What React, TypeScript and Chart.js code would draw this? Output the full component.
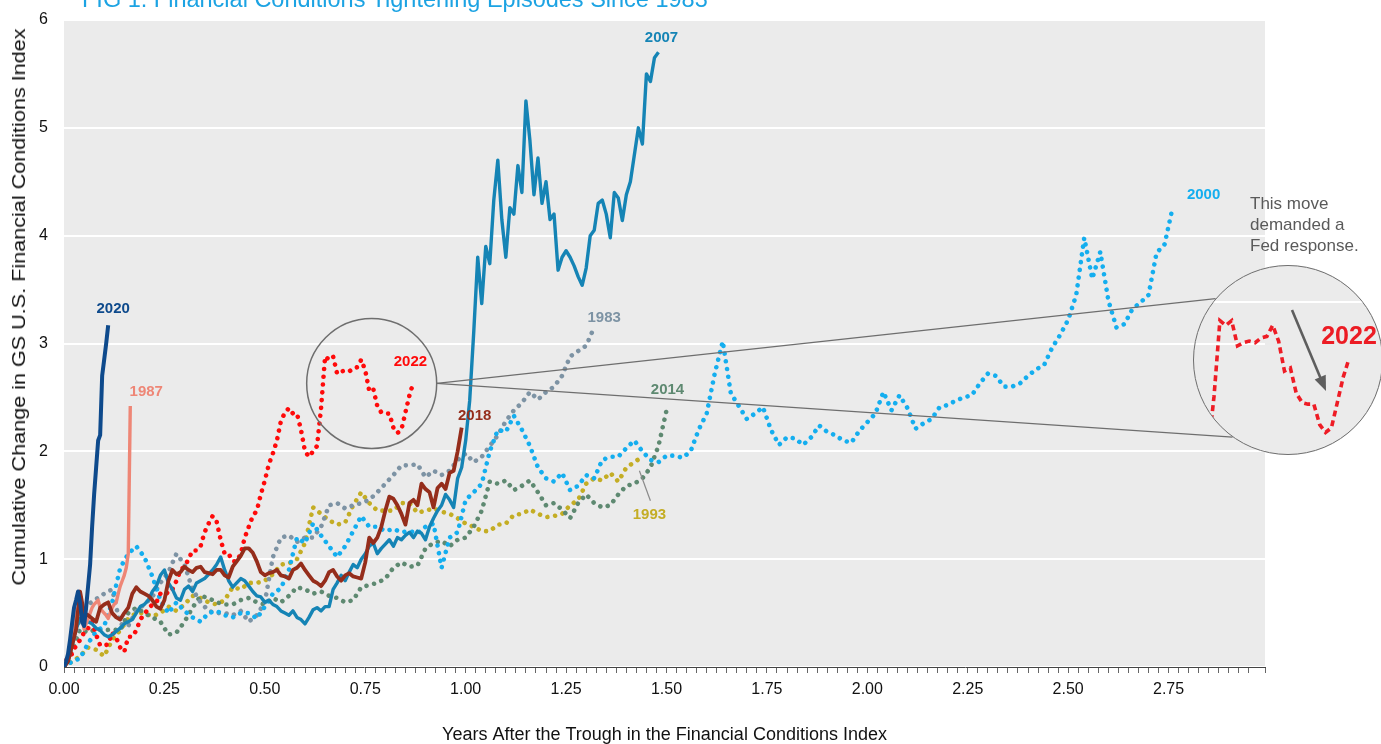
import React, { useEffect, useRef } from "react";
import { Chart, registerables } from "chart.js";

Chart.register(...registerables);

const FONT = '"Liberation Sans", Arial, Helvetica, sans-serif';
const W = 1381;
const H = 744;

// ---------- axes ----------
const X_MIN = 0;
const X_MAX = 2.99;
const X_TICK_STEP = 0.025;
const X_LABEL_EVERY = 0.25;
const Y_MIN = 0;
const Y_MAX = 6;
const Y_STEP = 1;

// ---------- data: cumulative change in FCI, sampled every STEP years after the trough ----------
const STEP_2020 = 0.005;
const FCI_2020 = [0, 0.05, 0.12, 0.25, 0.4, 0.55, 0.62, 0.7, 0.6, 0.42, 0.38, 0.55, 0.75, 0.95, 1.3, 1.6, 1.85, 2.1, 2.15, 2.7, 2.85, 3.0, 3.17];

const STEP_1987 = 0.005;
const FCI_1987 = [0, 0.05, 0.1, 0.2, 0.3, 0.4, 0.5, 0.55, 0.55, 0.45, 0.35, 0.4, 0.45, 0.5, 0.55, 0.58, 0.6, 0.62, 0.55, 0.52, 0.5, 0.48, 0.45, 0.5, 0.55, 0.58, 0.6, 0.68, 0.75, 0.8, 0.85, 0.92, 1.05, 2.42];

const STEP_2007 = 0.01;
const FCI_2007 = [
  0, 0.05, 0.2, 0.35, 0.45, 0.48, 0.42, 0.4, 0.36, 0.34,
  0.3, 0.28, 0.3, 0.33, 0.36, 0.4, 0.42, 0.44, 0.5, 0.56,
  0.58, 0.62, 0.7, 0.75, 0.85, 0.9, 0.78, 0.72, 0.64, 0.62,
  0.72, 0.75, 0.7, 0.78, 0.8, 0.82, 0.86, 0.9, 0.95, 1.02,
  0.9, 0.8, 0.74, 0.78, 0.82, 0.8, 0.75, 0.7, 0.66, 0.65,
  0.6, 0.62, 0.58, 0.56, 0.52, 0.5, 0.48, 0.52, 0.46, 0.44,
  0.4, 0.46, 0.53, 0.55, 0.52, 0.56, 0.56, 0.72, 0.78, 0.85,
  0.8, 0.88, 0.95, 0.92, 1.0, 1.05, 1.12, 1.15, 1.05, 1.1,
  1.14, 1.18, 1.12, 1.2, 1.18, 1.22, 1.25, 1.2, 1.26, 1.24,
  1.18, 1.3, 1.38, 1.45, 1.5, 1.6, 1.55, 1.48, 1.75, 1.85,
  2.1, 2.47, 3.1, 3.8, 3.37, 3.9, 3.74, 4.33, 4.7, 4.15,
  3.8, 4.26, 4.2, 4.65, 4.4, 5.25, 4.88, 4.38, 4.72, 4.3,
  4.5, 4.15, 4.2, 3.68, 3.8, 3.86, 3.8, 3.72, 3.62, 3.54,
  3.7, 4.0, 4.05, 4.3, 4.33, 4.2, 3.98, 4.4, 4.35, 4.14,
  4.38, 4.5, 4.75, 5.0, 4.85, 5.5, 5.43, 5.65, 5.7,
];

const STEP_2018 = 0.01;
const FCI_2018 = [
  0, 0.05, 0.2, 0.35, 0.7, 0.5, 0.48, 0.45, 0.42, 0.55,
  0.58, 0.6, 0.5, 0.46, 0.44, 0.5, 0.55, 0.68, 0.74, 0.7,
  0.68, 0.66, 0.62, 0.56, 0.54, 0.62, 0.8, 0.9, 0.86, 0.88,
  0.93, 0.9, 0.88, 0.92, 0.93, 0.88, 0.87, 0.86, 0.9, 0.9,
  0.85, 0.83, 0.93, 0.98, 1.03, 1.1, 1.1, 1.06, 0.98, 0.88,
  0.85, 0.87, 0.88, 0.9, 0.85, 0.84, 0.82, 0.9, 0.92, 0.96,
  0.9, 0.85, 0.8, 0.78, 0.75, 0.8, 0.88, 0.9, 0.84, 0.8,
  0.85, 0.87, 0.84, 0.83, 0.82, 0.97, 1.2, 1.15, 1.2, 1.3,
  1.45, 1.58, 1.56, 1.5, 1.42, 1.32, 1.52, 1.55, 1.5, 1.7,
  1.65, 1.62, 1.48, 1.66, 1.7, 1.65, 1.8, 1.82, 2.0, 2.22,
];

const STEP_2022 = 0.01;
const FCI_2022 = [
  0, 0.1, 0.12, 0.2, 0.25, 0.32, 0.36, 0.42, 0.3, 0.2,
  0.2, 0.21, 0.32, 0.27, 0.18, 0.14, 0.28, 0.28, 0.34, 0.44,
  0.49, 0.54, 0.58, 0.6, 0.68, 0.7, 0.68, 0.72, 0.8, 0.9,
  0.93, 1.0, 1.08, 1.08, 1.12, 1.25, 1.33, 1.4, 1.35, 1.18,
  1.05, 1.05, 0.98, 0.98, 1.05, 1.2, 1.3, 1.4, 1.45, 1.6,
  1.73, 1.88, 1.98, 2.1, 2.28, 2.36, 2.4, 2.35, 2.35, 2.2,
  2.0, 1.95, 2.0, 2.05, 2.4, 2.88, 2.85, 2.88, 2.72, 2.74,
  2.75, 2.74, 2.77, 2.78, 2.85, 2.75, 2.56, 2.58, 2.42, 2.36,
  2.35, 2.35, 2.22, 2.17, 2.2, 2.36, 2.52, 2.64,
];

const STEP_2000 = 0.02;
const FCI_2000 = [
  0, 0.05, 0.08, 0.22, 0.33, 0.38, 0.6, 0.92, 1.05, 1.12,
  1.02, 0.84, 0.62, 0.5, 0.6, 0.52, 0.46, 0.42, 0.5, 0.52,
  0.48, 0.46, 0.5, 0.5, 0.45, 0.56, 0.68, 0.73, 0.9, 1.2,
  1.15, 1.33, 1.22, 1.12, 1.02, 1.12, 1.26, 1.4, 1.3, 1.3,
  1.26, 1.28, 1.25, 1.26, 1.24, 1.3, 1.33, 0.92, 1.2, 1.25,
  1.55, 1.62, 1.7, 2.0, 2.2, 2.18, 2.33, 2.2, 2.05, 1.85,
  1.75, 1.72, 1.8, 1.64, 1.68, 1.78, 1.75, 1.92, 1.95, 1.95,
  2.03, 2.1, 2.0, 1.92, 1.9, 1.96, 1.96, 1.94, 2.0, 2.2,
  2.35, 2.72, 3.02, 2.54, 2.42, 2.3, 2.35, 2.41, 2.2, 2.06,
  2.13, 2.12, 2.06, 2.13, 2.24, 2.18, 2.15, 2.1, 2.08, 2.19,
  2.27, 2.35, 2.55, 2.38, 2.52, 2.4, 2.21, 2.26, 2.3, 2.41,
  2.43, 2.47, 2.5, 2.52, 2.63, 2.72, 2.7, 2.6, 2.6, 2.63,
  2.7, 2.76, 2.8, 2.96, 3.08, 3.22, 3.45, 3.98, 3.6, 3.85,
  3.4, 3.15, 3.18, 3.32, 3.38, 3.45, 3.84, 3.92, 4.26,
];

const STEP_1983 = 0.02;
const FCI_1983 = [
  0, 0.2, 0.45, 0.58, 0.63, 0.68, 0.72, 0.4, 0.38, 0.52,
  0.58, 0.65, 0.78, 0.88, 1.05, 0.95, 0.72, 0.6, 0.52, 0.5,
  0.5, 0.48, 0.52, 0.42, 0.48, 0.6, 1.02, 1.2, 1.22, 1.16,
  1.2, 1.2, 1.3, 1.5, 1.52, 1.47, 1.5, 1.52, 1.55, 1.62,
  1.7, 1.78, 1.87, 1.87, 1.88, 1.76, 1.82, 1.78, 1.82, 1.92,
  1.98, 1.9, 1.95, 2.05, 2.15, 2.28, 2.38, 2.45, 2.55, 2.48,
  2.55, 2.6, 2.7, 2.88, 2.93, 2.98, 3.15,
];

const STEP_2014 = 0.02;
const FCI_2014 = [
  0, 0.15, 0.35, 0.32, 0.35, 0.34, 0.35, 0.34, 0.5, 0.55,
  0.5, 0.46, 0.42, 0.3, 0.32, 0.42, 0.55, 0.66, 0.64, 0.6,
  0.58, 0.58, 0.62, 0.64, 0.6, 0.58, 0.64, 0.6, 0.66, 0.74,
  0.72, 0.68, 0.7, 0.66, 0.64, 0.6, 0.62, 0.74, 0.76, 0.78,
  0.82, 0.92, 0.97, 0.93, 0.94, 1.1, 1.15, 1.17, 1.12, 1.18,
  1.2, 1.3, 1.45, 1.72, 1.7, 1.73, 1.64, 1.68, 1.73, 1.62,
  1.5, 1.52, 1.46, 1.38, 1.52, 1.6, 1.52, 1.48, 1.5, 1.6,
  1.68, 1.7, 1.75, 1.85, 2.05, 2.38,
];

const STEP_1993 = 0.02;
const FCI_1993 = [
  0, 0.05, 0.1, 0.18, 0.16, 0.1, 0.25, 0.34, 0.45, 0.5,
  0.5, 0.47, 0.5, 0.56, 0.52, 0.58, 0.66, 0.64, 0.6, 0.58,
  0.62, 0.74, 0.72, 0.78, 0.78, 0.8, 0.86, 0.95, 0.96, 1.0,
  1.15, 1.48, 1.42, 1.36, 1.32, 1.34, 1.5, 1.62, 1.52, 1.45,
  1.45, 1.45, 1.52, 1.52, 1.43, 1.45, 1.47, 1.44, 1.42, 1.38,
  1.33, 1.3, 1.26, 1.26, 1.32, 1.33, 1.41, 1.42, 1.46, 1.42,
  1.39, 1.4, 1.42, 1.5, 1.55, 1.7, 1.75, 1.73, 1.8, 1.72,
  1.85, 1.9, 1.95,
];

// ---------- text ----------
const TITLE = "FIG 1: Financial Conditions Tightening Episodes Since 1983";
const Y_TITLE = "Cumulative Change in GS U.S. Financial Conditions Index";
const X_TITLE = "Years After the Trough in the Financial Conditions Index";
const NOTE_LINES = ["This move", "demanded a", "Fed response."];
const INSET_LABEL = "2022";

// ---------- styles (drawn top-most first) ----------
type Series = {
  name: string;
  values: number[];
  step: number;
  color: string;
  dotted: boolean;
  width: number;
  dx: number;
  dy: number;
  leader?: boolean;
};

const SERIES: Series[] = [
  { name: "2020", values: FCI_2020, step: STEP_2020, color: "#0E4A8C", dotted: false, width: 4, dx: 5, dy: -16 },
  { name: "2018", values: FCI_2018, step: STEP_2018, color: "#952D1B", dotted: false, width: 3.8, dx: 13, dy: -12 },
  { name: "1987", values: FCI_1987, step: STEP_1987, color: "#EE8676", dotted: false, width: 3.4, dx: 16, dy: -14 },
  { name: "2007", values: FCI_2007, step: STEP_2007, color: "#1584B5", dotted: false, width: 3.4, dx: 3, dy: -14 },
  { name: "2022", values: FCI_2022, step: STEP_2022, color: "#FF0A0A", dotted: true, width: 4.6, dx: -3, dy: -20 },
  { name: "2000", values: FCI_2000, step: STEP_2000, color: "#14AEEF", dotted: true, width: 4.6, dx: 31, dy: -13 },
  { name: "1983", values: FCI_1983, step: STEP_1983, color: "#7D93A4", dotted: true, width: 4.6, dx: 10, dy: -9 },
  { name: "2014", values: FCI_2014, step: STEP_2014, color: "#5E8971", dotted: true, width: 4.6, dx: 1, dy: -20 },
  { name: "1993", values: FCI_1993, step: STEP_1993, color: "#C4AD24", dotted: true, width: 4.6, dx: 7, dy: 58, leader: true },
];

const PLOT_BG = "#EBEBEB";
const CALLOUT = "#6E6E6E";

// magnifier: focus region (data units) shown in the small circle, enlarged in the big one
const FOCUS_X = 0.766;
const FOCUS_Y = 2.63;
const FOCUS_R_PX = 65;
const BIG = { cx: 1288, cy: 360, r: 95 };
const BIG_ANGLES = [-139.7, 125.7];

function toPoints(values: number[], step: number) {
  return values.map((y, i) => ({ x: Math.round(i * step * 10000) / 10000, y }));
}

const overlayPlugin = {
  id: "overlay",
  beforeDraw(chart: any) {
    const { ctx, chartArea: a } = chart;
    ctx.save();
    ctx.fillStyle = PLOT_BG;
    ctx.fillRect(a.left, a.top, a.right - a.left, a.bottom - a.top);
    ctx.beginPath();
    ctx.arc(BIG.cx, BIG.cy, BIG.r, 0, Math.PI * 2);
    ctx.fillStyle = PLOT_BG;
    ctx.fill();
    ctx.restore();
  },
  afterDatasetsDraw(chart: any) {
    const { ctx } = chart;
    const xs = chart.scales.x;
    const ys = chart.scales.y;
    ctx.save();
    // series labels
    ctx.font = `bold 15px ${FONT}`;
    ctx.textAlign = "center";
    ctx.textBaseline = "middle";
    SERIES.forEach((s, i) => {
      const meta = chart.getDatasetMeta(i);
      const p = meta.data[meta.data.length - 1];
      if (!p) return;
      if (s.leader) {
        ctx.strokeStyle = "#8A8A8A";
        ctx.lineWidth = 1.2;
        ctx.beginPath();
        ctx.moveTo(p.x - 3, p.y + 14);
        ctx.lineTo(p.x + 8, p.y + 44);
        ctx.stroke();
      }
      ctx.fillStyle = s.color;
      ctx.fillText(s.name, p.x + s.dx, p.y + s.dy);
    });
    // magnifier callout
    const cx = xs.getPixelForValue(FOCUS_X);
    const cy = ys.getPixelForValue(FOCUS_Y);
    ctx.strokeStyle = CALLOUT;
    ctx.lineWidth = 1.5;
    ctx.beginPath();
    ctx.arc(cx, cy, FOCUS_R_PX, 0, Math.PI * 2);
    ctx.stroke();
    ctx.lineWidth = 1.2;
    BIG_ANGLES.forEach((deg) => {
      const r = (deg * Math.PI) / 180;
      ctx.beginPath();
      ctx.moveTo(cx + FOCUS_R_PX, cy);
      ctx.lineTo(BIG.cx + BIG.r * Math.cos(r), BIG.cy + BIG.r * Math.sin(r));
      ctx.stroke();
    });
    ctx.restore();
  },
};

const insetPlugin = {
  id: "insetMarks",
  afterDraw(chart: any) {
    const { ctx } = chart;
    ctx.save();
    // arrow
    const x1 = 99, y1 = 45, x2 = 133, y2 = 126;
    const ang = Math.atan2(y2 - y1, x2 - x1);
    ctx.strokeStyle = "#5E5E5E";
    ctx.fillStyle = "#5E5E5E";
    ctx.lineWidth = 2.6;
    ctx.beginPath();
    ctx.moveTo(x1, y1);
    ctx.lineTo(x2 - 12 * Math.cos(ang), y2 - 12 * Math.sin(ang));
    ctx.stroke();
    ctx.beginPath();
    ctx.moveTo(x2, y2);
    ctx.lineTo(x2 - 15 * Math.cos(ang) + 6 * Math.sin(ang), y2 - 15 * Math.sin(ang) - 6 * Math.cos(ang));
    ctx.lineTo(x2 - 15 * Math.cos(ang) - 6 * Math.sin(ang), y2 - 15 * Math.sin(ang) + 6 * Math.cos(ang));
    ctx.closePath();
    ctx.fill();
    // label
    ctx.font = `bold 25px ${FONT}`;
    ctx.fillStyle = "#EC1C24";
    ctx.textAlign = "center";
    ctx.textBaseline = "middle";
    ctx.fillText(INSET_LABEL, 156, 72);
    ctx.restore();
  },
};

export default function App() {
  const mainRef = useRef<HTMLCanvasElement>(null);
  const insetRef = useRef<HTMLCanvasElement>(null);

  useEffect(() => {
    const datasets = SERIES.map((s) => ({
      label: s.name,
      data: toPoints(s.values, s.step),
      borderColor: s.color,
      backgroundColor: s.color,
      borderWidth: s.width,
      borderDash: s.dotted ? [0.01, 7.8] : [],
      borderCapStyle: s.dotted ? "round" : "butt",
      borderJoinStyle: "round",
      pointRadius: 0,
      pointHoverRadius: 0,
      tension: 0,
      fill: false,
    }));

    const main = new Chart(mainRef.current as HTMLCanvasElement, {
      type: "line",
      data: { datasets: datasets as any },
      options: {
        animation: false,
        responsive: false,
        maintainAspectRatio: false,
        devicePixelRatio: 1,
        events: [],
        layout: { autoPadding: false, padding: { left: 0, right: 116, top: 20, bottom: 0 } },
        plugins: { legend: { display: false }, tooltip: { enabled: false }, title: { display: false } },
        scales: {
          x: {
            type: "linear",
            min: X_MIN,
            max: X_MAX,
            afterFit: (s: any) => {
              s.height = 77;
            },
            ticks: {
              stepSize: X_TICK_STEP,
              autoSkip: false,
              maxRotation: 0,
              minRotation: 0,
              padding: 7,
              color: "#111",
              font: { family: FONT, size: 16 },
              callback: (v: any) => {
                const k = Number(v) / X_LABEL_EVERY;
                return Math.abs(k - Math.round(k)) < 1e-6 ? Number(v).toFixed(2) : "";
              },
            },
            grid: { display: true, drawOnChartArea: false, drawTicks: true, tickLength: 6, color: "#666", lineWidth: 1 },
            border: { display: true, color: "#444", width: 1 },
            title: { display: true, text: X_TITLE, color: "#111", font: { family: FONT, size: 18 }, padding: { top: 0, bottom: -2 } },
          },
          y: {
            type: "linear",
            min: Y_MIN,
            max: Y_MAX,
            afterFit: (s: any) => {
              s.width = 64;
            },
            ticks: { stepSize: Y_STEP, padding: 0, color: "#111", font: { family: FONT, size: 16 } },
            grid: { color: "#FFFFFF", lineWidth: 2, drawTicks: true, tickLength: 16, tickColor: "rgba(0,0,0,0)" },
            border: { display: false },
          },
        },
      },
      plugins: [overlayPlugin],
    } as any);

    const pxPerYear = main.scales.x.getPixelForValue(1) - main.scales.x.getPixelForValue(0);
    const pxPerUnit = main.scales.y.getPixelForValue(0) - main.scales.y.getPixelForValue(1);
    const dxYears = FOCUS_R_PX / pxPerYear;
    const dyUnits = FOCUS_R_PX / pxPerUnit;

    const inset = new Chart(insetRef.current as HTMLCanvasElement, {
      type: "line",
      data: {
        datasets: [
          {
            data: toPoints(FCI_2022, STEP_2022),
            borderColor: "#EE1C25",
            borderWidth: 3.6,
            borderDash: [6, 4],
            pointRadius: 0,
            tension: 0,
            fill: false,
          },
        ],
      },
      options: {
        animation: false,
        responsive: false,
        maintainAspectRatio: false,
        devicePixelRatio: 1,
        events: [],
        layout: { autoPadding: false, padding: 0 },
        plugins: { legend: { display: false }, tooltip: { enabled: false } },
        scales: {
          x: { type: "linear", min: FOCUS_X - dxYears, max: FOCUS_X + dxYears, display: false },
          y: {
            type: "linear",
            min: FOCUS_Y - dyUnits,
            max: FOCUS_Y + dyUnits,
            afterFit: (s: any) => {
              s.width = 0;
            },
            ticks: { display: false, stepSize: 1, includeBounds: false, padding: 0 },
            grid: { color: "#FFFFFF", lineWidth: 2, drawTicks: false },
            border: { display: false },
          },
        },
      },
      plugins: [insetPlugin],
    } as any);

    return () => {
      main.destroy();
      inset.destroy();
    };
  }, []);

  const size = BIG.r * 2;
  return (
    <div style={{ position: "absolute", left: 0, top: 0, width: W, height: H, overflow: "hidden", background: "#fff", fontFamily: FONT }}>
      <canvas ref={mainRef} width={W} height={H} style={{ position: "absolute", left: 0, top: 0, width: W, height: H }} />
      <div
        style={{
          position: "absolute",
          left: BIG.cx - BIG.r,
          top: BIG.cy - BIG.r,
          width: size,
          height: size,
          borderRadius: "50%",
          overflow: "hidden",
          border: `1.5px solid ${CALLOUT}`,
          boxSizing: "border-box",
        }}
      >
        <canvas ref={insetRef} width={size} height={size} style={{ position: "absolute", left: -1.5, top: -1.5, width: size, height: size }} />
      </div>
      <div style={{ position: "absolute", left: 82, top: -14, fontSize: 23.5, lineHeight: "26px", color: "#1CA3E3", whiteSpace: "nowrap" }}>{TITLE}</div>
      <div
        style={{
          position: "absolute",
          left: 19,
          top: 307,
          fontSize: 18,
          lineHeight: "20px",
          color: "#111",
          whiteSpace: "nowrap",
          transform: "translate(-50%, -50%) rotate(-90deg) scaleX(1.2)",
        }}
      >
        {Y_TITLE}
      </div>
      <div style={{ position: "absolute", left: 1250, top: 193, fontSize: 17, lineHeight: "21px", color: "#5A5A5A", whiteSpace: "nowrap" }}>
        {NOTE_LINES.map((l) => (
          <div key={l}>{l}</div>
        ))}
      </div>
    </div>
  );
}
